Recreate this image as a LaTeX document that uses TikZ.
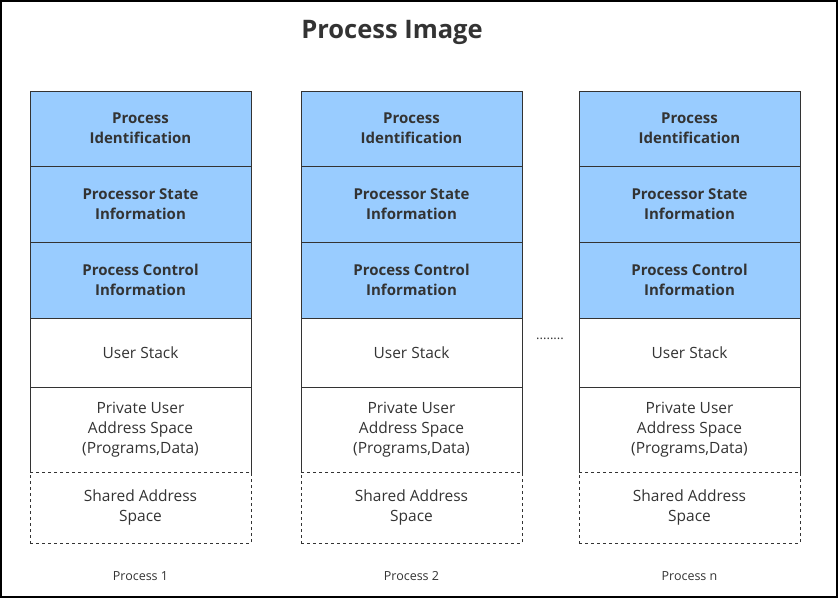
\documentclass[tikz,border=0pt]{standalone}
\usepackage{fontspec}
\setmainfont{Open Sans}
\usetikzlibrary{positioning}
\definecolor{cellblue}{HTML}{99CCFF}
\definecolor{ink}{HTML}{333333}

\begin{document}
\begin{tikzpicture}[x=1pt, y=-1pt, node distance=0pt,
  cell/.style={draw=ink, line width=1pt, minimum width=221pt, align=center,
               inner sep=0pt, outer sep=0pt, text=ink,
               font=\fontsize{15.5}{20}\selectfont},
  head/.style={cell, fill=cellblue, font=\bfseries\fontsize{15}{20}\selectfont},
  shared/.style={cell, dashed, fill=white, minimum height=71pt},
  proclabel/.style={text=ink, font=\fontsize{12.5}{14}\selectfont}]
  \useasboundingbox (0,0) rectangle (838,598);
  \draw[line width=2pt] (1,1) rectangle (837,597);
  \node[font=\bfseries\fontsize{25.5}{30}\selectfont, text=ink] (title) at (392,32) {Process Image};
  % one column per process
  \foreach \x/\n/\lbl in {30/1/Process 1, 301/2/Process 2, 579/n/Process n} {
    \node[head, minimum height=75pt, anchor=north west] (p\n-id) at (\x,91) {Process\\Identification};
    \node[head, minimum height=76pt, below=of p\n-id] (p\n-state) {Processor State\\Information};
    \node[head, minimum height=76pt, below=of p\n-state] (p\n-ctrl) {Process Control\\Information};
    \node[cell, minimum height=69pt, below=of p\n-ctrl] (p\n-stack) {User Stack};
    \node[cell, minimum height=85pt, below=of p\n-stack] (p\n-priv) {Private User\\Address Space\\(Programs,Data)};
    \node[shared, below=of p\n-priv] (p\n-shared) {Shared Address\\Space};
    \node[proclabel] (p\n-label) at (\x+110.5,576) {\lbl};
  }
  \node[text=ink, font=\fontsize{13}{13}\selectfont] (dots) at (550,339) {........};
\end{tikzpicture}
\end{document}
